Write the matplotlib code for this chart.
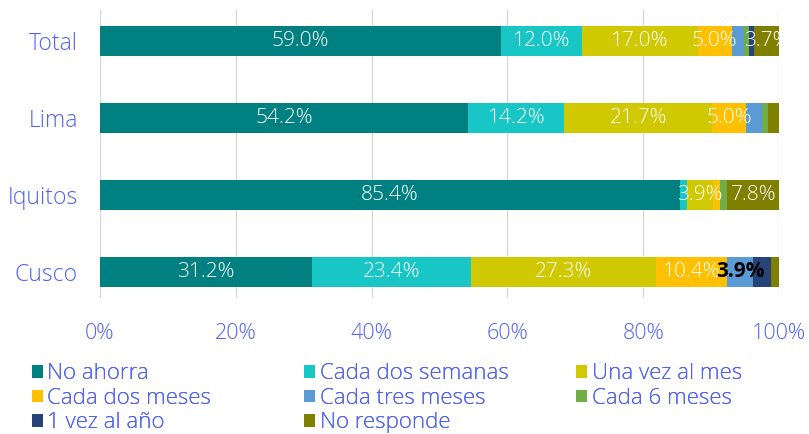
import matplotlib.pyplot as plt
import numpy as np

plt.rcParams['font.family'] = ['Open Sans', 'DejaVu Sans']

# data
ciudades = ['Total', 'Lima', 'Iquitos', 'Cusco']
frecuencias = ['No ahorra', 'Cada dos semanas', 'Una vez al mes', 'Cada dos meses',
               'Cada tres meses', 'Cada 6 meses', '1 vez al año', 'No responde']
no_ahorra = [59.0, 54.2, 85.4, 31.2]
cada_dos_semanas = [12.0, 14.2, 1.0, 23.4]
una_vez_mes = [17.0, 21.7, 3.9, 27.3]
cada_dos_meses = [5.0, 5.0, 1.0, 10.4]
cada_tres_meses = [1.9, 2.4, 0.0, 3.9]
cada_6_meses = [0.7, 0.8, 1.0, 0.0]
una_vez_anio = [0.7, 0.0, 0.0, 2.6]
no_responde = [3.7, 1.7, 7.8, 1.3]

series = [no_ahorra, cada_dos_semanas, una_vez_mes, cada_dos_meses,
          cada_tres_meses, cada_6_meses, una_vez_anio, no_responde]
colores = ['#008080', '#19c6c6', '#d0c800', '#ffc000',
           '#5b9bd5', '#70ad47', '#264478', '#7f7f00']

azul = '#4f62f2'
peso = 'light'

fig = plt.figure(figsize=(8.09, 4.34), dpi=100)
ax = fig.add_axes([0.1236, 0.313, 0.8394, 0.664])

y = np.arange(len(ciudades))
izq = np.zeros(len(ciudades))
handles = []
for nombre, vals, col in zip(frecuencias, series, colores):
    vals = np.array(vals)
    b = ax.barh(y, vals, left=izq, height=0.39, color=col, label=nombre, zorder=3)
    handles.append(b)
    for i, v in enumerate(vals):
        if v >= 3.5:
            bold = (ciudades[i] == 'Cusco' and nombre == 'Cada tres meses')
            ax.text(izq[i] + v / 2, y[i], f'{v:.1f}%', ha='center', va='center',
                    color='black' if bold else 'white',
                    fontweight='bold' if bold else peso,
                    fontsize=15, zorder=4)
    izq += vals

ax.set_xlim(0, 100)
ax.set_ylim(3.34, -0.4)
ax.set_yticks(y)
ax.set_yticklabels(ciudades, fontweight=peso, fontsize=16.5)
ax.set_xticks(np.arange(0, 101, 20))
ax.set_xticklabels([f'{t}%' for t in range(0, 101, 20)], fontweight=peso, fontsize=15.5)
ax.tick_params(axis='both', length=0, colors=azul)
ax.tick_params(axis='x', pad=18)
ax.tick_params(axis='y', pad=16)
ax.grid(axis='x', color='#d9d9d9', linewidth=1, zorder=0)
for s in ax.spines.values():
    s.set_visible(False)

# legend filled row by row: one legend per column at fixed positions
columnas = [[0, 3, 6], [1, 4, 7], [2, 5]]
x_col = [0.039, 0.376, 0.712]
for idx, x0 in zip(columnas, x_col):
    leg = fig.legend([handles[i] for i in idx], [frecuencias[i] for i in idx],
                     ncol=1, loc='upper left', bbox_to_anchor=(x0, 0.163),
                     frameon=False, prop={'size': 16, 'weight': peso},
                     handlelength=0.5, handleheight=0.5,
                     handletextpad=0.2, labelspacing=0.16,
                     borderaxespad=0, borderpad=0)
    for t in leg.get_texts():
        t.set_color(azul)
    fig.add_artist(leg)

fig.savefig('out.png', dpi=100)
